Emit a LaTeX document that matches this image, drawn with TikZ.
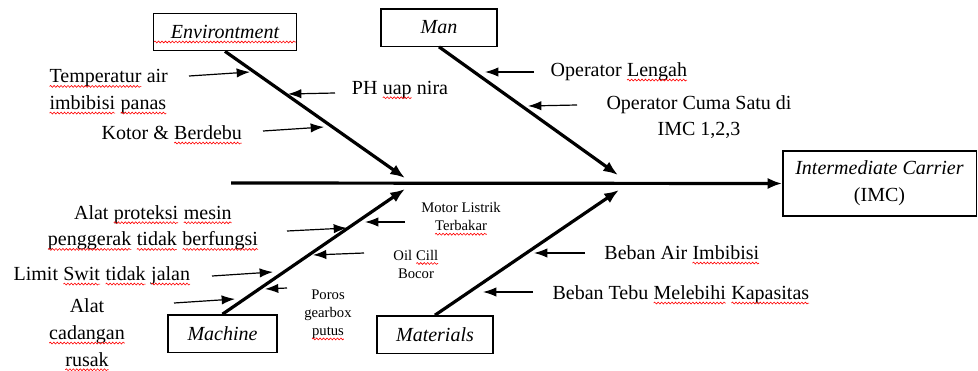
\documentclass[tikz,border=0pt]{standalone}
\usepackage{fontspec}
\setmainfont{Liberation Serif}
\usepackage{tikz}
\usetikzlibrary{arrows.meta,decorations.pathmorphing}

\newcommand{\bigtxt}{\fontsize{15}{20}\selectfont}
\newcommand{\smalltxt}{\fontsize{11}{13.5}\selectfont}
\newcommand{\typo}[1]{\tikz[baseline=(w.base)]{\node[inner sep=0pt,outer sep=0pt,anchor=base] (w) at (0,0) {#1};
	\draw[red,line width=0.45pt,decorate,decoration={snake,amplitude=0.7pt,segment length=2.6pt}] ([yshift=-2.6pt]w.base west)--([yshift=-2.6pt]w.base east);}}

\begin{document}
\begin{tikzpicture}[x=0.75pt,y=-0.75pt,
	bone/.style={line width=2.4pt,-{Latex[length=11pt,width=8.5pt]}},
	cause/.style={line width=0.9pt,-{Latex[length=10pt,width=7pt]}},
	catbox/.style={draw,line width=1pt,inner sep=0pt,minimum height=28pt,font=\bigtxt\itshape},
	txt/.style={font=\bigtxt,align=center,inner sep=0pt},
	small/.style={font=\smalltxt,align=center,inner sep=0pt}]
	\useasboundingbox (0,0) rectangle (978,371);

	%HEAD AND SPINE
	\node[draw,line width=1pt,minimum width=145pt,minimum height=48.75pt,align=center,font=\bigtxt] (imc) at (879.5,183.5) {\textit{Intermediate Carrier}\\(IMC)};
	\coordinate (tail) at (231,183);
	\draw[bone] (tail)--(imc.west);

	%CATEGORY BOXES
	\node[catbox,minimum width=106.5pt] (env) at (225,32) {\typo{Environtment}};
	\node[catbox,minimum width=87pt] (man) at (439,27.5) {Man};
	\node[catbox,minimum width=81.75pt] (mac) at (222.5,333.5) {Machine};
	\node[catbox,minimum width=87pt] (mat) at (435,334.5) {Materials};

	%BONES
	\coordinate (envtip) at (405,178);	\coordinate (mantip) at (618,175);
	\coordinate (mactip) at (405,189);	\coordinate (mattip) at (619,190);
	\draw[bone] (env.south)--(envtip);
	\draw[bone] (man.south)--(mantip);
	\draw[bone] (mac.north)--(mactip);
	\draw[bone] (mat.north)--(mattip);

	%CAUSE ARROWS
	\foreach \n/\xa/\ya/\xb/\yb in {e1/189/76/250/72, e2/335/93/288/94, e3/263/131/324/127,
		m1/534/72/485/72, m2/577/105/528/106,
		c1/287/231/347/228, c2/212/276/273/272, c3/174/303/235/299,
		c4/405/222/365/222, c5/364/253/313/255, c6/287/288/265/289,
		t1/585/253/534/253, t2/533/292/483/292}{
		\coordinate (\n s) at (\xa,\ya);	%start
		\coordinate (\n e) at (\xb,\yb);	%tip
		\draw[cause] (\n s)--(\n e);
	}	%end foreach

	%ENVIRONMENT CAUSES
	\node[txt,align=left,anchor=west] (le1) at (49,92) {\typo{Temperatur} air\\\typo{imbibisi} \typo{panas}};
	\node[txt] (le2) at (400,90) {PH \typo{uap} nira};
	\node[txt] (le3) at (172,135) {Kotor \& \typo{Berdebu}};

	%MAN CAUSES
	\node[txt] (lm1) at (619,72) {Operator \typo{Lengah}};
	\node[txt] (lm2) at (699,117) {Operator Cuma Satu di\\IMC 1,2,3};

	%MACHINE CAUSES
	\node[txt] (lc1) at (153,228) {Alat \typo{proteksi} \typo{mesin}\\\typo{penggerak} \typo{tidak} \typo{berfungsi}};
	\node[txt] (lc2) at (102,276) {Limit \typo{Swit} \typo{tidak} \typo{jalan}};
	\node[txt] (lc3) at (87,335) {Alat\\\typo{cadangan}\\\typo{rusak}};
	\node[small] (lc4) at (461,219) {Motor Listrik\\\typo{Terbakar}};
	\node[small] (lc5) at (416,264) {Oil \typo{Cill}\\Bocor};
	\node[small] (lc6) at (328,315) {Poros\\gearbox\\\typo{putus}};

	%MATERIALS CAUSES
	\node[txt] (lt1) at (682,255) {Beban Air \typo{Imbibisi}};
	\node[txt] (lt2) at (681,295) {Beban Tebu \typo{Melebihi} \typo{Kapasitas}};
\end{tikzpicture}
\end{document}
